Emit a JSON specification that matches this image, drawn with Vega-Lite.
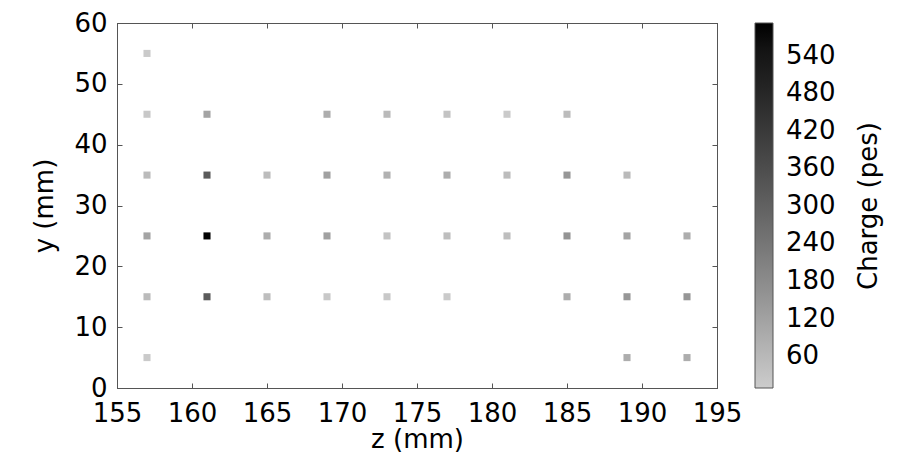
{
  "$schema": "https://vega.github.io/schema/vega-lite/v6.json",
  "autosize": "none",
  "padding": {"left": 117, "top": 23, "right": 183, "bottom": 86},
  "width": 600,
  "height": 365,
  "background": "white",
  "config": {
    "view": {"stroke": "#555555", "strokeWidth": 1},
    "font": "DejaVu Sans",
    "axis": {
      "grid": false,
      "domainColor": "#555555",
      "tickColor": "#555555",
      "labelFont": "DejaVu Sans",
      "labelFontSize": 26,
      "labelColor": "#000000",
      "labelFlush": false,
      "labelOverlap": false,
      "titleFont": "DejaVu Sans",
      "titleFontSize": 26,
      "titleFontWeight": "normal",
      "titleColor": "#000000"
    },
    "legend": {
      "labelFont": "DejaVu Sans",
      "titleFont": "DejaVu Sans"
    }
  },
  "data": {
    "values": [
      {"z": 157, "y": 55, "charge": 15},
      {"z": 157, "y": 45, "charge": 20},
      {"z": 157, "y": 35, "charge": 52},
      {"z": 157, "y": 25, "charge": 112},
      {"z": 157, "y": 15, "charge": 52},
      {"z": 157, "y": 5, "charge": 15},
      {"z": 161, "y": 45, "charge": 112},
      {"z": 161, "y": 35, "charge": 318},
      {"z": 161, "y": 25, "charge": 590},
      {"z": 161, "y": 15, "charge": 318},
      {"z": 165, "y": 35, "charge": 50},
      {"z": 165, "y": 25, "charge": 90},
      {"z": 165, "y": 15, "charge": 45},
      {"z": 169, "y": 45, "charge": 90},
      {"z": 169, "y": 35, "charge": 120},
      {"z": 169, "y": 25, "charge": 120},
      {"z": 169, "y": 15, "charge": 20},
      {"z": 173, "y": 45, "charge": 55},
      {"z": 173, "y": 35, "charge": 80},
      {"z": 173, "y": 25, "charge": 32},
      {"z": 173, "y": 15, "charge": 20},
      {"z": 177, "y": 45, "charge": 32},
      {"z": 177, "y": 35, "charge": 90},
      {"z": 177, "y": 25, "charge": 45},
      {"z": 177, "y": 15, "charge": 15},
      {"z": 181, "y": 45, "charge": 15},
      {"z": 181, "y": 35, "charge": 50},
      {"z": 181, "y": 25, "charge": 45},
      {"z": 185, "y": 45, "charge": 50},
      {"z": 185, "y": 35, "charge": 147},
      {"z": 185, "y": 25, "charge": 155},
      {"z": 185, "y": 15, "charge": 90},
      {"z": 189, "y": 35, "charge": 55},
      {"z": 189, "y": 25, "charge": 112},
      {"z": 189, "y": 15, "charge": 147},
      {"z": 189, "y": 5, "charge": 90},
      {"z": 193, "y": 25, "charge": 90},
      {"z": 193, "y": 15, "charge": 150},
      {"z": 193, "y": 5, "charge": 90}
    ]
  },
  "layer": [
    {
      "mark": {"type": "point", "shape": "square", "filled": true, "opacity": 1, "size": 50, "strokeWidth": 0},
      "encoding": {
        "x": {
          "field": "z", "type": "quantitative",
          "scale": {"domain": [155, 195], "nice": false, "zero": false},
          "axis": {"values": [155, 160, 165, 170, 175, 180, 185, 190, 195], "tickSize": -5, "labelPadding": 17, "title": "z (mm)", "titlePadding": 0, "orient": "bottom"}
        },
        "y": {
          "field": "y", "type": "quantitative",
          "scale": {"domain": [0, 60], "nice": false},
          "axis": {"values": [0, 10, 20, 30, 40, 50, 60], "tickSize": -5, "labelPadding": 15, "title": "y (mm)", "titlePadding": 16, "orient": "left"}
        },
        "color": {
          "field": "charge", "type": "quantitative",
          "scale": {"domain": [9, 592], "range": ["#cccccc", "#000000"]},
          "legend": {
            "title": null,
            "orient": "none",
            "legendX": 638,
            "legendY": 0,
            "direction": "vertical",
            "gradientLength": 365,
            "gradientThickness": 18,
            "gradientStrokeColor": "#555555",
            "gradientStrokeWidth": 1,
            "values": [60, 120, 180, 240, 300, 360, 420, 480, 540],
            "labelFontSize": 26,
            "labelColor": "#000000",
            "labelOffset": 13,
            "labelOverlap": false
          }
        }
      }
    },
    {
      "mark": {"type": "point", "opacity": 0},
      "encoding": {
        "x": {
          "field": "z", "type": "quantitative",
          "scale": {"domain": [155, 195], "nice": false, "zero": false},
          "axis": {"values": [155, 160, 165, 170, 175, 180, 185, 190, 195], "tickSize": -5, "labels": false, "title": null, "orient": "top"}
        },
        "y": {
          "field": "y", "type": "quantitative",
          "scale": {"domain": [0, 60], "nice": false},
          "axis": {"values": [0, 10, 20, 30, 40, 50, 60], "tickSize": -5, "labels": false, "title": "Charge (pes)", "titleAngle": 270, "titleBaseline": "bottom", "titlePadding": 164, "orient": "right"}
        }
      }
    }
  ],
  "resolve": {"axis": {"x": "independent", "y": "independent"}}
}
